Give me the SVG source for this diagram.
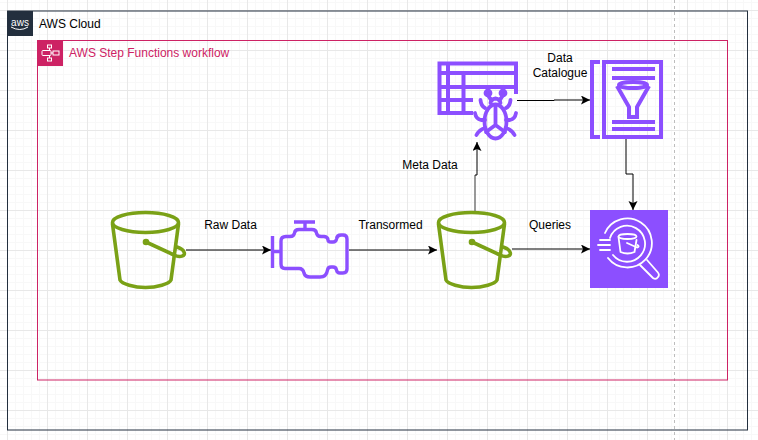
<svg xmlns="http://www.w3.org/2000/svg" width="758" height="440" viewBox="0 0 758 440">
<style>
text{font-family:"Liberation Sans",Arial,sans-serif;font-size:12px;fill:#000}
.m{text-anchor:middle}
.c{fill:none;stroke:#000;stroke-width:1;marker-end:url(#a)}
.g{fill:none;stroke:#7AA116;stroke-width:3.6;stroke-linejoin:round;stroke-linecap:round}
.p{fill:none;stroke:#8C4FFF;stroke-width:3.4;stroke-linejoin:round}
.q{fill:none;stroke:#8C4FFF;stroke-width:4;stroke-linejoin:miter}
.w{fill:none;stroke:#fff;stroke-width:1.8;stroke-linecap:round;stroke-linejoin:round}
</style>
<defs>
<pattern id="minor" width="8" height="8" patternUnits="userSpaceOnUse" patternTransform="translate(7 10)"><path d="M.5 0V8M0 .5H8" stroke="#f8f8f8" stroke-width="1" fill="none"/></pattern>
<pattern id="major" width="40" height="40" patternUnits="userSpaceOnUse" patternTransform="translate(7 10)"><path d="M.5 0V40M0 .5H40" stroke="#e8e8e8" stroke-width="1" fill="none"/></pattern>
<marker id="a" markerWidth="10" markerHeight="10" refX="9" refY="4.500" orient="auto" markerUnits="userSpaceOnUse"><path d="M0 0L9 4.500L0 9L2 4.500Z" fill="#000"/></marker>
<g id="bucket">
<ellipse cx="33.500" cy="10.500" rx="33" ry="10" class="g"/>
<path d="M.5 12L8 68C10 72 22 75.500 33.500 75.500C45 75.500 57 72 59 68L66.500 12" class="g"/>
<circle cx="34" cy="30" r="3.300" fill="#7AA116"/>
<path d="M34 30L62 43C68 46 74 44 72 40C71 37 68 36 65 35" class="g"/>
</g>
</defs>
<rect width="758" height="440" fill="#fff"/>
<rect width="758" height="440" fill="url(#minor)"/>
<rect width="758" height="440" fill="url(#major)"/>
<path d="M674.500 0V440" stroke="#bdbdbd" stroke-width="1" stroke-dasharray="3 3" fill="none"/>

<g id="aws-cloud">
<rect x="7.500" y="11" width="740" height="419" fill="none" stroke="#232F3E"/>
<rect x="7" y="11" width="26" height="25" fill="#232F3E"/>
<text x="20" y="26" class="m" style="font-size:10px;fill:#fff">aws</text>
<path d="M11 27Q20 32 28 27" fill="none" stroke="#fff" stroke-width="1"/>
<text x="39" y="28">AWS Cloud</text>
</g>

<g id="step-functions">
<rect x="37.500" y="40.500" width="690" height="339.500" fill="none" stroke="#CD2264"/>
<rect x="37" y="40" width="26" height="26" fill="#CD2264"/>
<g fill="none" stroke="#fff" stroke-width="1">
<rect x="42" y="50.500" width="9" height="5" rx="1"/><rect x="47.500" y="45" width="4" height="3"/><rect x="47.500" y="58" width="4" height="3"/><rect x="53" y="51" width="6" height="4"/><path d="M49.500 48V50.500M49.500 55.500V58M51 53H53"/>
</g>
<text x="69" y="57" style="fill:#CD2264">AWS Step Functions workflow</text>
</g>

<g id="connectors">
<path class="c" d="M186 250H271"/>
<path class="c" d="M349 250H437"/>
<path class="c" d="M512 249H590"/>
<path d="M475 212V175" fill="none" stroke="#777" stroke-width="1.500"/>
<path class="c" d="M475 175H477V142"/>
<path class="c" d="M517 100.500H554V100H590"/>
<path class="c" d="M626 138V174H633V210"/>
</g>

<g id="s3-raw"><use href="#bucket" x="112" y="212"/></g>

<g id="engine">
<path class="p" d="M272.500 236V268M272.500 251.500H281M294 222H315M305 222V229"/>
<path class="p" d="M281 252V241Q281 236.500 286 236.500H290Q294 236.500 294.500 233Q295 229.500 299 229.500H312Q316 229.500 316.500 233Q317 236.500 321 236.500H324Q328 237 328 240Q328 242 331 242H333Q336 242 336.500 239Q337 235 341 235H343Q347 235 347 239V269Q347 273 343 273H340Q337 273 336.500 270Q336 267 333 267H331Q328 267 327.500 270Q326.500 277 320 277H310Q305 277 304 273Q303 268.500 299 268.500H285Q281 268.500 281 264Z"/>
</g>

<g id="s3-transformed"><use href="#bucket" x="438" y="212"/></g>

<g id="athena">
<rect x="590" y="210" width="78" height="78" fill="#8C4FFF"/>
<g class="w">
<path d="M600 240H610M598 245H610M600 250H610"/>
<path d="M605 233A24.500 24.500 0 1 1 608 258"/>
<path d="M610 238A18 18 0 1 1 613 255"/>
<ellipse cx="627.500" cy="236.500" rx="9" ry="2.500"/>
<path d="M618.500 237L620.500 252Q627.500 255 634.500 252L636.500 240"/>
<path d="M627 243L637 247.500Q640 247 637.500 245"/>
<path d="M640 265L653 278Q656 280 658 277Q660 275 657.500 272L647 260"/>
</g>
</g>

<g id="glue-crawler">
<path class="q" d="M516 94V63.500H439.500V113H473M439.500 73H516M439.500 87H516M448 63.500V113M463.500 73V113M439.500 100H473"/>
<g class="p" stroke-linecap="round" style="stroke-width:3.800">
<circle cx="488" cy="93" r="2.500" fill="#8C4FFF"/><circle cx="503" cy="93" r="2.500" fill="#8C4FFF"/>
<path d="M490.500 103Q491 99 495.500 98.500Q500 99 500.500 103M488 95L491 100M503 95L500 100"/>
<ellipse cx="495.500" cy="121.500" rx="11" ry="17"/>
<path d="M495.500 107V125L486 132M495.500 125L505 132"/>
<path d="M485 108Q481 106 480.500 100M506 108Q510 106 510.500 100M485 120H481Q476 119 475 113M506 120H510Q515 119 516 113M485 128Q479 130 476.500 135M506 128Q512 130 514.500 135"/>
</g>
</g>

<g id="glue-catalog">
<path class="q" d="M600 62H592V137H600"/>
<rect class="q" x="604" y="62" width="57" height="75"/>
<path class="q" d="M612 69H655M612 78H655M612 122H655M612 129H655"/>
<ellipse class="q" cx="633" cy="85" rx="14" ry="3"/>
<path class="q" d="M617 86L629 107V117H637V107L649 86"/>
</g>

<g id="labels">
<text x="230.500" y="229" class="m">Raw Data</text>
<text x="390.500" y="229" class="m">Transormed</text>
<text x="550" y="229" class="m">Queries</text>
<text x="430" y="169" class="m">Meta Data</text>
<text x="560" y="62" class="m">Data</text>
<text x="560" y="77" class="m">Catalogue</text>
</g>
</svg>
